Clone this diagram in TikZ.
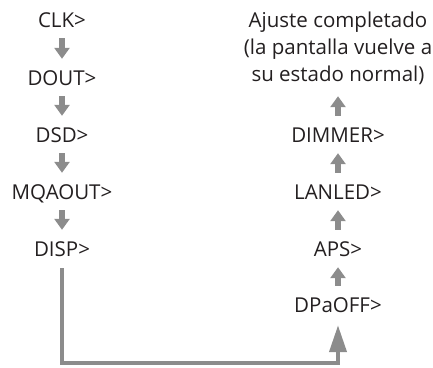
\documentclass[tikz,border=0pt]{standalone}
\usepackage{fontspec}
\setmainfont{Open Sans}
\usetikzlibrary{arrows.meta}
\definecolor{txt}{HTML}{231F20}
\definecolor{arr}{HTML}{8C8C8C}
\begin{document}
\begin{tikzpicture}[x=1pt,y=-1pt,
  lbl/.style={inner sep=0pt, anchor=base, text=txt, font=\fontsize{20.5}{27}\selectfont, text height=15pt, text depth=0pt},
  sarr/.style={draw=arr, line width=6.5pt, -{Triangle[width=15pt,length=11pt]}, shorten <=11pt, shorten >=11pt},
  barr/.style={draw=arr, line width=4pt, -{Triangle[width=17pt,length=27pt]}}]
\useasboundingbox (0,0) rectangle (433,367);
% left column
\node[lbl] (clk)  at (62,27)  {CLK>};
\node[lbl] (dout) at (62,85)  {DOUT>};
\node[lbl] (dsd)  at (62,142) {DSD>};
\node[lbl] (mqa)  at (62,199) {MQAOUT>};
\node[lbl] (disp) at (62,256) {DISP>};
% right column
\node[inner sep=0pt, anchor=north, text=txt, font=\fontsize{20.5}{27}\selectfont, align=center] (ajuste) at (338,12)
  {Ajuste completado\\(la pantalla vuelve a\\su estado normal)};
\node[lbl] (dimmer) at (338,142) {DIMMER>};
\node[lbl] (lanled) at (338,199) {LANLED>};
\node[lbl] (aps)    at (338,256) {APS>};
\node[lbl] (dpaoff) at (338,312) {DPaOFF>};
% arrows
\draw[sarr] (clk) -- (dout);
\draw[sarr] (dout) -- (dsd);
\draw[sarr] (dsd) -- (mqa);
\draw[sarr] (mqa) -- (disp);
\draw[sarr] (dpaoff) -- (aps);
\draw[sarr] (aps) -- (lanled);
\draw[sarr] (lanled) -- (dimmer);
\draw[sarr] (dimmer) -- (ajuste);
\coordinate (c2) at (338,363);
\draw[barr, shorten <=12pt, shorten >=13pt] (disp) |- (c2) -- (dpaoff);
\end{tikzpicture}
\end{document}
